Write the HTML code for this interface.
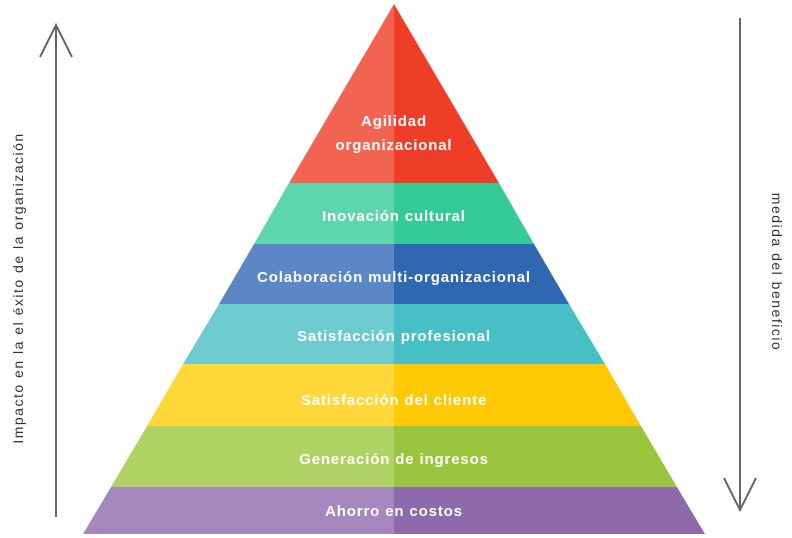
<!DOCTYPE html>
<html><head><meta charset="utf-8"><style>
html,body{margin:0;padding:0;background:#fff;}
svg{display:block;}
.t{font-family:"Liberation Sans",sans-serif;font-weight:bold;font-size:15px;fill:#fff;text-anchor:middle;letter-spacing:0.85px;}
.r{font-family:"Liberation Sans",sans-serif;font-size:14px;fill:#333;text-anchor:middle;letter-spacing:1.5px;}
</style></head><body>
<svg width="792" height="538" viewBox="0 0 792 538" xmlns="http://www.w3.org/2000/svg">
<polygon points="394,4 289,183 394,183" fill="#F26451"/>
<polygon points="394,4 499,183 394,183" fill="#EE3E28"/>
<polygon points="289,183 254,244 394,244 394,183" fill="#5DD6AE"/>
<polygon points="499,183 534,244 394,244 394,183" fill="#35CB96"/>
<polygon points="254,244 219,304 394,304 394,244" fill="#5B87C6"/>
<polygon points="534,244 569,304 394,304 394,244" fill="#2F67B0"/>
<polygon points="219,304 183,364 394,364 394,304" fill="#6DCBD0"/>
<polygon points="569,304 605,364 394,364 394,304" fill="#46C0C4"/>
<polygon points="183,364 147,426 394,426 394,364" fill="#FED738"/>
<polygon points="605,364 641,426 394,426 394,364" fill="#FFCA05"/>
<polygon points="147,426 111,487 394,487 394,426" fill="#AED263"/>
<polygon points="641,426 677,487 394,487 394,426" fill="#99C43E"/>
<polygon points="111,487 83,534 394,534 394,487" fill="#A488BE"/>
<polygon points="677,487 705,534 394,534 394,487" fill="#8C6AAC"/>
<text class="t" x="394" y="126">Agilidad</text>
<text class="t" x="394" y="150">organizacional</text>
<text class="t" x="394" y="221">Inovación cultural</text>
<text class="t" x="394" y="282">Colaboración multi-organizacional</text>
<text class="t" x="394" y="341">Satisfacción profesional</text>
<text class="t" x="394" y="405">Satisfacción del cliente</text>
<text class="t" x="394" y="464">Generación de ingresos</text>
<text class="t" x="394" y="516">Ahorro en costos</text>
<g stroke="#666" stroke-width="2" fill="none">
<line x1="56" y1="25" x2="56" y2="517"/>
<polyline points="40,57 56,25 72,57"/>
<line x1="740" y1="18" x2="740" y2="510"/>
<polyline points="724,478 740,510 756,478"/>
</g>
<text class="r" transform="translate(23,288) rotate(-90)">Impacto en la el éxito de la organización</text>
<text class="r" transform="translate(772,272) rotate(90)">medida del beneficio</text>
</svg>
</body></html>
